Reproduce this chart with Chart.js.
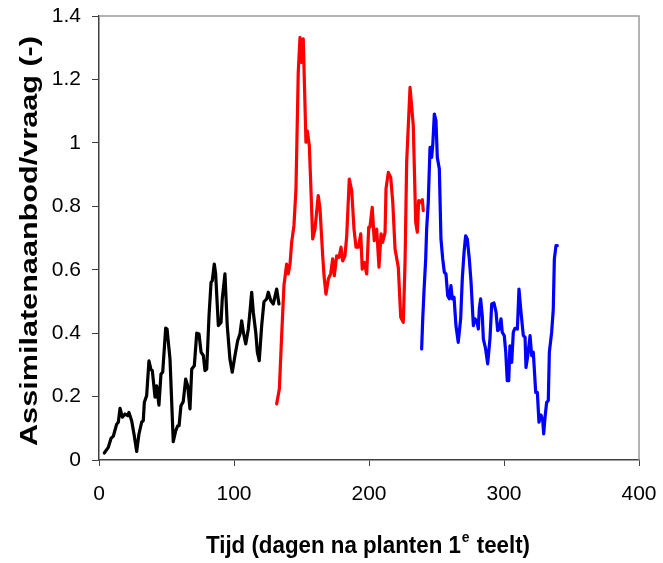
<!DOCTYPE html>
<html>
<head>
<meta charset="utf-8">
<script src="https://cdn.jsdelivr.net/npm/chart.js@4/dist/chart.umd.min.js"></script>
<style>
  html, body { margin: 0; padding: 0; background: #fff; }
  #wrap { width: 663px; height: 563px; }
</style>
</head>
<body>
<div id="wrap"><canvas id="assimChart" width="663" height="563"></canvas></div>
<script>
// Data: days after planting and supply/demand ratio
const blackDays = [3.9, 6.9, 8.9, 10.6, 13.1, 14.3, 15.6, 17.3, 19.3, 21.3, 22.2, 24.2, 26.1, 27.9, 29.6, 31.6, 32.8, 33.6, 35.3, 37, 38.5, 39.5, 41.5, 42.7, 44.4, 45.9, 47.2, 49.4, 50.4, 52.6, 55, 56.8, 58.3, 59.3, 60.7, 62.4, 64.2, 65.7, 67.4, 68.7, 70.6, 72.4, 74.1, 75.6, 77.3, 78.5, 79.8, 81.5, 83, 83.9, 85.4, 86.4, 88.4, 90.4, 91.3, 93.3, 95, 97, 98.7, 100.7, 102.7, 104.4, 105.7, 106.9, 108.7, 110.6, 111.9, 113.1, 114.3, 116.1, 117.3, 118.7, 120.5, 122.2, 124.2, 125.4, 127.2, 129.1, 131.6, 133.3];
const blackValues = [0.022, 0.04, 0.068, 0.075, 0.113, 0.119, 0.163, 0.135, 0.145, 0.14, 0.15, 0.124, 0.077, 0.027, 0.082, 0.119, 0.124, 0.182, 0.203, 0.313, 0.285, 0.282, 0.198, 0.234, 0.173, 0.271, 0.277, 0.416, 0.413, 0.318, 0.058, 0.092, 0.108, 0.108, 0.171, 0.184, 0.255, 0.234, 0.161, 0.287, 0.297, 0.4, 0.397, 0.34, 0.329, 0.282, 0.287, 0.455, 0.56, 0.565, 0.618, 0.587, 0.424, 0.434, 0.508, 0.587, 0.424, 0.318, 0.277, 0.329, 0.376, 0.397, 0.439, 0.403, 0.366, 0.413, 0.471, 0.529, 0.466, 0.403, 0.34, 0.313, 0.424, 0.499, 0.508, 0.529, 0.503, 0.492, 0.539, 0.492];

const redDays = [131.6, 133.6, 135.3, 137, 139, 140.2, 141.5, 142.7, 144.4, 145.9, 147.6, 148.9, 150.1, 151.3, 153.3, 154.3, 155.8, 156.8, 158.3, 160, 162.4, 163.7, 165.7, 166.7, 168.1, 169.9, 171.6, 173.1, 174.3, 176.1, 177.8, 179.3, 180.5, 182.2, 183.5, 185.4, 187.2, 188.9, 190.4, 192.1, 193.9, 195, 196.5, 198.3, 199.8, 200.7, 202.4, 203.9, 205.7, 207.4, 208.9, 210.1, 211.9, 212.6, 214.3, 216.1, 217.6, 219.3, 221.7, 223.5, 225.4, 226.7, 227.9, 230.4, 232.8, 234.6, 235.8, 236.8, 238.3, 239.5, 240.2];
const redValues = [0.177, 0.224, 0.392, 0.55, 0.618, 0.587, 0.618, 0.686, 0.739, 0.855, 1.223, 1.333, 1.254, 1.328, 1.002, 1.038, 0.991, 0.876, 0.697, 0.728, 0.834, 0.792, 0.644, 0.581, 0.523, 0.571, 0.587, 0.634, 0.581, 0.644, 0.639, 0.671, 0.628, 0.644, 0.707, 0.886, 0.849, 0.728, 0.671, 0.671, 0.713, 0.602, 0.623, 0.587, 0.734, 0.734, 0.797, 0.692, 0.728, 0.608, 0.713, 0.686, 0.718, 0.855, 0.907, 0.891, 0.813, 0.665, 0.608, 0.45, 0.434, 0.623, 0.939, 1.175, 1.054, 0.75, 0.718, 0.818, 0.813, 0.821, 0.786];

const blueDays = [239, 239.8, 240.7, 242, 242.7, 243.9, 245.2, 246.4, 247.2, 248.4, 249.6, 250.6, 252.1, 253.3, 254.6, 255.8, 257, 258.3, 259.5, 260.7, 261.7, 263, 264.4, 266.1, 267.9, 269.1, 270.4, 271.6, 272.8, 274.3, 275.6, 277.3, 278.5, 279.8, 281, 281.7, 282.7, 283.9, 284.7, 286.4, 287.9, 289.6, 290.9, 292.6, 294.1, 295.3, 296.5, 297.8, 298.7, 300.2, 301.3, 302.4, 303.5, 304.4, 305.7, 306.9, 308.1, 309.9, 311.1, 312.6, 314.3, 315.6, 316.3, 317.6, 319.3, 320.5, 321.7, 323.5, 324.7, 325.9, 327.4, 328.7, 329.4, 330.4, 331.6, 332.8, 333.6, 335.3, 336.5, 337.3, 338.5, 339.5];
const blueValues = [0.35, 0.445, 0.529, 0.634, 0.728, 0.813, 0.986, 0.954, 0.991, 1.091, 1.07, 0.954, 0.918, 0.697, 0.634, 0.592, 0.587, 0.518, 0.508, 0.55, 0.508, 0.513, 0.424, 0.371, 0.445, 0.571, 0.655, 0.707, 0.697, 0.634, 0.56, 0.424, 0.445, 0.439, 0.413, 0.476, 0.508, 0.455, 0.382, 0.35, 0.303, 0.382, 0.492, 0.495, 0.466, 0.408, 0.413, 0.445, 0.403, 0.392, 0.34, 0.25, 0.25, 0.36, 0.308, 0.403, 0.415, 0.413, 0.539, 0.466, 0.392, 0.387, 0.292, 0.329, 0.392, 0.329, 0.34, 0.213, 0.213, 0.119, 0.142, 0.124, 0.082, 0.135, 0.182, 0.187, 0.34, 0.403, 0.476, 0.634, 0.676, 0.676];

const xTicks = [0, 100, 200, 300, 400];
const yTicks = [0, 0.2, 0.4, 0.6, 0.8, 1, 1.2, 1.4];

const xTitleMain = 'Tijd (dagen na planten 1';
const xTitleSup = 'e';
const xTitleEnd = ' teelt)';
const yTitle = 'Assimilatenaanbod/vraag (-)';

function toPoints(days, values) {
  return days.map((d, i) => ({ x: d, y: values[i] }));
}

// Kader rechts/boven en de as-titels (met superscript) zelf tekenen
const framePlugin = {
  id: 'framePlugin',
  afterDraw(chart) {
    const ctx = chart.ctx;
    const a = chart.chartArea;
    ctx.save();
    ctx.strokeStyle = '#9a9a9a';
    ctx.lineWidth = 1.5;
    ctx.beginPath();
    ctx.moveTo(a.left, a.top);
    ctx.lineTo(a.right, a.top);
    ctx.lineTo(a.right, a.bottom);
    ctx.stroke();

    ctx.fillStyle = '#000';
    const bigFont = 'bold 24px "Liberation Sans", Arial, sans-serif';
    const supFont = 'bold 15px "Liberation Sans", Arial, sans-serif';

    // x-as titel, iets smaller getekend zoals in het origineel
    ctx.save();
    ctx.textBaseline = 'alphabetic';
    ctx.font = bigFont;
    const w1 = ctx.measureText(xTitleMain).width;
    const w3 = ctx.measureText(xTitleEnd).width;
    ctx.font = supFont;
    const w2 = ctx.measureText(xTitleSup).width + 2;
    const total = w1 + w2 + w3;
    const sx = 324 / total;
    ctx.translate(368 - 162, 553);
    ctx.scale(sx, 1);
    let x = 0;
    ctx.font = bigFont;
    ctx.fillText(xTitleMain, x, 0);
    x += w1;
    ctx.font = supFont;
    ctx.fillText(xTitleSup, x + 1, -11);
    x += w2;
    ctx.font = bigFont;
    ctx.fillText(xTitleEnd, x, 0);
    ctx.restore();

    // y-as titel, verticaal uitgerekt
    ctx.save();
    ctx.font = bigFont;
    const wy = ctx.measureText(yTitle).width;
    ctx.translate(30, 241);
    ctx.rotate(-Math.PI / 2);
    ctx.scale(410 / wy, 1);
    ctx.textAlign = 'center';
    ctx.textBaseline = 'middle';
    ctx.fillText(yTitle, 0, 0);
    ctx.restore();

    ctx.restore();
  }
};

function initializeChart() {
  const ctx = document.getElementById('assimChart').getContext('2d');
  const lineStyle = { borderWidth: 3.2, borderJoinStyle: 'round', borderCapStyle: 'round', pointRadius: 0, tension: 0, fill: false };

  return new Chart(ctx, {
    type: 'line',
    data: {
      datasets: [
        Object.assign({ label: 'teelt 1', data: toPoints(blackDays, blackValues), borderColor: '#000000' }, lineStyle),
        Object.assign({ label: 'teelt 2', data: toPoints(redDays, redValues), borderColor: '#ff0000' }, lineStyle),
        Object.assign({ label: 'teelt 3', data: toPoints(blueDays, blueValues), borderColor: '#0000ff' }, lineStyle)
      ]
    },
    options: {
      responsive: false,
      animation: false,
      layout: { padding: { left: 0, right: 24, top: 16, bottom: 0 } },
      plugins: {
        legend: { display: false },
        tooltip: { enabled: false }
      },
      scales: {
        x: {
          type: 'linear',
          min: 0,
          max: 400,
          afterBuildTicks: (scale) => { scale.ticks = xTicks.map(v => ({ value: v })); },
          afterFit: (scale) => {
            scale.height = 103;
            scale.paddingLeft = 0;
            scale.paddingRight = 0;
          },
          ticks: {
            color: '#000',
            padding: 16,
            font: { family: '"Liberation Sans", Arial, sans-serif', size: 21 }
          },
          grid: { drawOnChartArea: false, drawTicks: true, tickLength: 6, color: '#404040' },
          border: { color: '#404040', width: 1.5 }
        },
        y: {
          min: 0,
          max: 1.4,
          afterBuildTicks: (scale) => { scale.ticks = yTicks.map(v => ({ value: v })); },
          afterFit: (scale) => {
            scale.width = 99;
            scale.paddingTop = 0;
            scale.paddingBottom = 0;
          },
          ticks: {
            color: '#000',
            padding: 11,
            font: { family: '"Liberation Sans", Arial, sans-serif', size: 21 },
            callback: (v) => String(Math.round(v * 10) / 10)
          },
          grid: { drawOnChartArea: false, drawTicks: true, tickLength: 7, color: '#404040' },
          border: { color: '#404040', width: 1.5 }
        }
      }
    },
    plugins: [framePlugin]
  });
}

initializeChart();
</script>
</body>
</html>
